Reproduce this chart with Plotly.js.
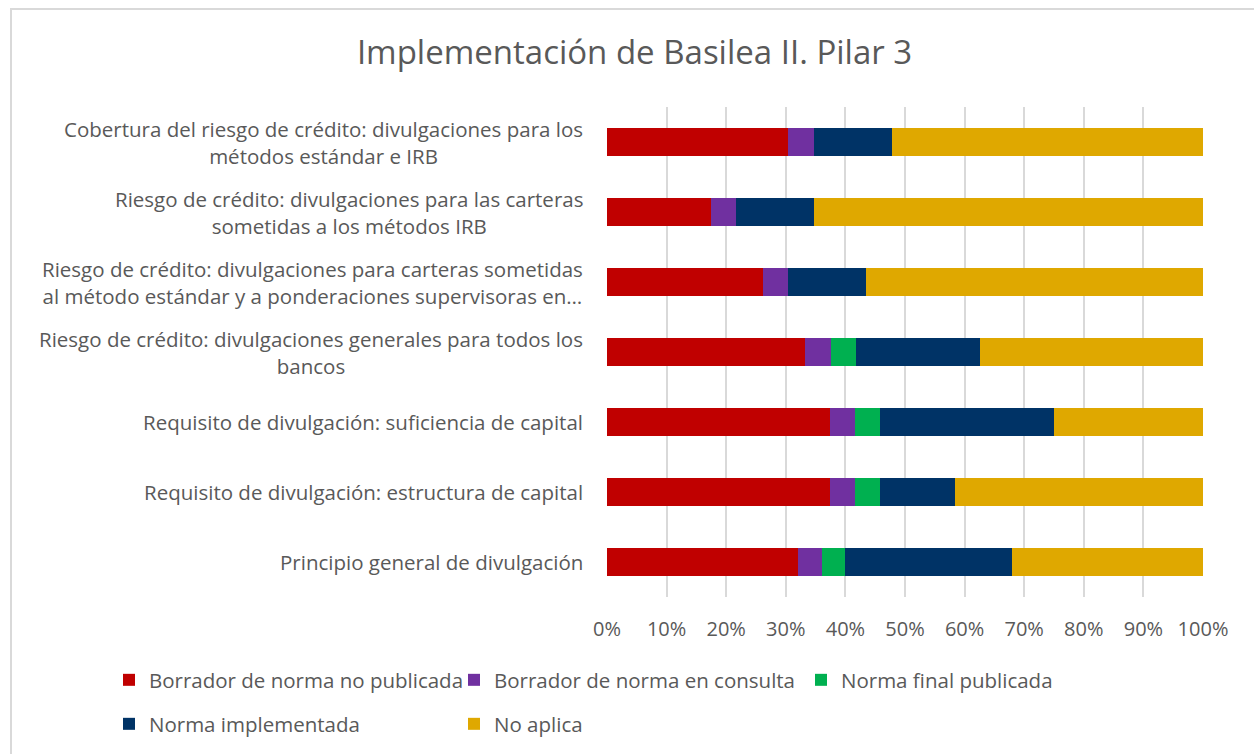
<!DOCTYPE html>
<html>
<head>
<meta charset="utf-8">
<script src="https://cdn.plot.ly/plotly-3.0.1.min.js"></script>
<style>
  body { margin: 0; overflow: hidden; background: #fff; }
  #grafico { position: absolute; left: 0; top: 0; width: 1254px; height: 754px; }
  #marco { position: absolute; left: 10px; top: 8px; width: 1400px; height: 900px;
           border: 2px solid #d9d9d9; pointer-events: none; z-index: 5; }
</style>
</head>
<body>
<div id="grafico"></div>
<div id="marco"></div>
<script>
// Categorías (de arriba hacia abajo)
const categorias = [
    'Cobertura del riesgo de crédito: divulgaciones para los<br>métodos estándar e IRB',
    'Riesgo de crédito: divulgaciones para las carteras<br>sometidas a los métodos IRB',
    'Riesgo de crédito: divulgaciones para carteras sometidas<br>al método estándar y a ponderaciones supervisoras en…',
    'Riesgo de crédito: divulgaciones generales para todos los<br>bancos',
    'Requisito de divulgación: suficiencia de capital',
    'Requisito de divulgación: estructura de capital',
    'Principio general de divulgación'
];

// Porcentajes por estado
const borradorNoPublicada = [30.4, 17.4, 26.1, 33.3, 37.5, 37.5, 32.0];
const borradorConsulta    = [4.3, 4.3, 4.3, 4.2, 4.2, 4.2, 4.0];
const normaFinal          = [0, 0, 0, 4.2, 4.2, 4.2, 4.0];
const normaImplementada   = [13.0, 13.0, 13.0, 20.8, 29.2, 12.5, 28.0];
const noAplica            = [52.2, 65.2, 56.5, 37.5, 25.0, 41.7, 32.0];

const series = [
    { name: 'Borrador de norma no publicada', x: borradorNoPublicada, color: '#C00000', legend: 'legend' },
    { name: 'Borrador de norma en consulta', x: borradorConsulta, color: '#7030A0', legend: 'legend2' },
    { name: 'Norma final publicada', x: normaFinal, color: '#00B050', legend: 'legend3' },
    { name: 'Norma implementada', x: normaImplementada, color: '#003366', legend: 'legend4' },
    { name: 'No aplica', x: noAplica, color: '#DFA800', legend: 'legend5' }
];

const texto = '#595959';
const fuente = '"Open Sans", sans-serif';

const data = series.map(s => ({
    type: 'bar',
    orientation: 'h',
    name: s.name,
    x: s.x,
    y: categorias,
    legend: s.legend,
    marker: { color: s.color },
    hoverinfo: 'name+x'
}));

// posición de cada leyenda (px en el contenedor)
function leyenda(px, py) {
    return {
        xref: 'container', yref: 'container',
        x: px / 1254, y: 1 - py / 754,
        xanchor: 'left', yanchor: 'middle',
        orientation: 'h',
        font: { family: fuente, size: 20.5, color: texto },
        bgcolor: 'rgba(0,0,0,0)'
    };
}

const layout = {
    width: 1254,
    height: 754,
    margin: { l: 607, r: 51, t: 107, b: 157 },
    title: {
        text: 'Implementación de Basilea II. Pilar 3',
        font: { family: fuente, size: 33, color: texto },
        x: 0.506, xanchor: 'center',
        y: 1 - 52 / 754, yanchor: 'middle'
    },
    font: { family: fuente, color: texto },
    barmode: 'stack',
    barnorm: 'percent',
    bargap: 0.6,
    xaxis: {
        range: [0, 100],
        dtick: 10,
        ticksuffix: '%',
        showgrid: true,
        gridcolor: '#d9d9d9',
        gridwidth: 2,
        zeroline: false,
        showline: false,
        ticklabelstandoff: 18,
        tickfont: { family: fuente, size: 20, color: texto }
    },
    yaxis: {
        type: 'category',
        categoryorder: 'array',
        categoryarray: categorias,
        autorange: 'reversed',
        showticklabels: false,
        showgrid: false,
        zeroline: false
    },
    annotations: categorias.map(c => ({
        xref: 'paper', yref: 'y',
        x: 0, y: c,
        xanchor: 'right', xshift: -22,
        align: 'center',
        text: c,
        showarrow: false,
        font: { family: fuente, size: 20.5, color: texto }
    })),
    showlegend: true,
    legend: leyenda(109, 680),
    legend2: leyenda(454, 680),
    legend3: leyenda(801, 680),
    legend4: leyenda(109, 724),
    legend5: leyenda(454, 724),
    paper_bgcolor: '#ffffff',
    plot_bgcolor: '#ffffff'
};

Plotly.newPlot('grafico', data, layout, { displayModeBar: false });
</script>
</body>
</html>
